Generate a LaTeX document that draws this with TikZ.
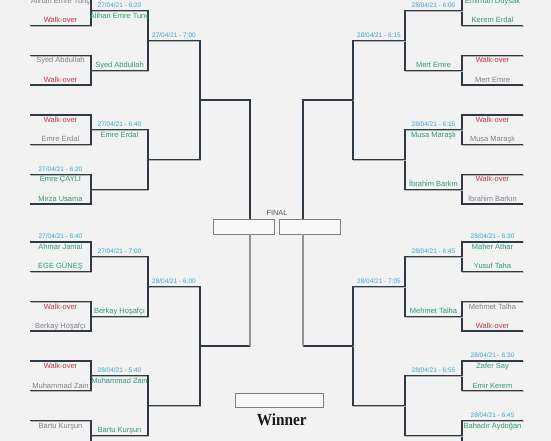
\documentclass[tikz,border=0pt]{standalone}
\usepackage{fontspec}
\setmainfont{Liberation Sans}
\newfontfamily\winnerfont{Liberation Serif}
\usetikzlibrary{calc}
\definecolor{bgcol}{HTML}{F2F2F2}
\definecolor{wincol}{HTML}{2E9B72}
\definecolor{losecol}{HTML}{808080}
\definecolor{wocol}{HTML}{C2384C}
\definecolor{datecol}{HTML}{3BA4C9}
\definecolor{linecol}{HTML}{2F3A45}
\definecolor{fincol}{HTML}{555B66}

\begin{document}
\begin{tikzpicture}[
    x=1bp, y=-1bp,
    bline/.style={draw=linecol, line width=1.1bp,
       preaction={draw=black!30, line width=1.1bp,
          transform canvas={shift={(0.9bp,-0.9bp)}}}},
    gline/.style={draw=linecol!55, line width=1.1bp},
    fbox/.style={draw=black!50, fill=white!50!bgcol, line width=0.9bp,
       inner sep=0pt, minimum height=15bp},
    txt/.style={inner sep=0pt, anchor=base, font=\fontsize{7.5bp}{9bp}\selectfont},
    win/.style={txt, text=wincol},
    lose/.style={txt, text=losecol},
    wo/.style={txt, text=wocol},
    topname/.style={yshift=-7.5bp},
    botname/.style={yshift=2.5bp},
    dat/.style={inner sep=0pt, anchor=base, yshift=3.3bp, text=datecol,
       font=\fontsize{6.5bp}{8bp}\selectfont}
  ]
\fill[bgcol] (0,0) rectangle (551,441);
\useasboundingbox (0,0) rectangle (551,441);
\clip (0,0) rectangle (551,441);

% bracket lines, left side and mirrored right side
\foreach \s/\sg in {L/1,R/-1} {
   \foreach \xc [count=\r from 0] in {30,91,148,200,250}
      \coordinate (\s-col-\r) at ({276.5+\sg*(\xc-276.5)},0);
   \foreach \yy [count=\j] in {-4,25.5,55.5,85,115,144.5,174.5,204,
                                242,271.5,301.5,331,361,390.5,420.5,450}
      \coordinate (\s-0-\j-o) at ({276.5+\sg*(30-276.5)},\yy);
   \foreach \r/\n in {1/8,2/4,3/2} {
      \pgfmathtruncatemacro\p{\r-1}
      \foreach \k in {1,...,\n} {
         \pgfmathtruncatemacro\ka{2*\k-1}
         \pgfmathtruncatemacro\kb{2*\k}
         \draw [bline] (\s-\p-\ka-o) -- (\s-\p-\ka-o -| \s-col-\r)
            -- (\s-\p-\kb-o -| \s-col-\r) -- (\s-\p-\kb-o);
         \coordinate (\s-\r-\k-o) at ($(\s-\p-\ka-o -| \s-col-\r)!0.5!(\s-\p-\kb-o -| \s-col-\r)$);
         \coordinate (\s-\r-\k-t) at ($(\s-\p-\ka-o)!0.5!(\s-\p-\ka-o -| \s-col-\r)$);
         \coordinate (\s-\r-\k-u) at ($(\s-\p-\kb-o)!0.5!(\s-\p-\kb-o -| \s-col-\r)$);
      }
   }
}

% final and winner
\node [fbox, minimum width=61bp] (fin-L) at (243.5,226.5) {};
\node [fbox, minimum width=61bp] (fin-R) at (309.5,226.5) {};
\node [inner sep=0pt, anchor=base, text=fincol,
       font=\fontsize{7.4bp}{9bp}\selectfont] (fin-lbl) at (277,215.3) {FINAL};
\foreach \s in {L,R} {
   \draw [bline] (\s-3-1-o) -- (\s-3-1-o -| \s-col-4) -- (\s-col-4 |- fin-\s.north);
   \draw [bline] (\s-3-2-o) -- (\s-3-2-o -| \s-col-4);
   \draw [gline] (\s-3-2-o -| \s-col-4) -- (\s-col-4 |- fin-\s.south);
}
\node [fbox, minimum width=88bp, minimum height=14bp] (win-box) at (279,400) {};
\node [inner sep=0pt, anchor=base, text=black!90,
       font=\winnerfont\bfseries\fontsize{17bp}{20bp}\selectfont]
   (win-lbl) at (281.7,425.7) {\scalebox{0.9}[1]{Winner}};

% players
\foreach \c/\sty/\txt in {L-1-1/lose/Alihan Emre Tunç, L-1-2/lose/Syed Abdullah,
      L-1-3/wo/Walk-over, L-1-4/win/Emre ÇAYLI, L-1-5/win/Ahmar Jamal,
      L-1-6/wo/Walk-over, L-1-7/wo/Walk-over, L-1-8/lose/Bartu Kurşun,
      L-2-1/win/Alihan Emre Tunç, L-2-2/win/Emre Erdal, L-2-4/win/Muhammad Zain,
      R-1-1/win/Emirhan Duysak, R-1-2/wo/Walk-over, R-1-3/wo/Walk-over,
      R-1-4/wo/Walk-over, R-1-5/win/Maher Athar, R-1-6/lose/Mehmet Talha,
      R-1-7/win/Zafer Say, R-1-8/win/Bahadır Aydoğan, R-2-2/win/Musa Maraşlı}
   \node [\sty, topname] (\c-top) at (\c-t) {\txt};
\foreach \c/\sty/\txt in {L-1-1/wo/Walk-over, L-1-2/wo/Walk-over,
      L-1-3/lose/Emre Erdal, L-1-4/win/Mirza Usama, L-1-5/win/EGE GÜNEŞ,
      L-1-6/lose/Berkay Hoşafçı, L-1-7/lose/Muhammad Zain,
      L-2-1/win/Syed Abdullah, L-2-3/win/Berkay Hoşafçı, L-2-4/win/Bartu Kurşun,
      R-1-1/win/Kerem Erdal, R-1-2/lose/Mert Emre, R-1-3/lose/Musa Maraşlı,
      R-1-4/lose/İbrahim Barkın, R-1-5/win/Yusuf Taha, R-1-6/wo/Walk-over,
      R-1-7/win/Emir Kerem, R-2-1/win/Mert Emre, R-2-2/win/İbrahim Barkın,
      R-2-3/win/Mehmet Talha}
   \node [\sty, botname] (\c-bot) at (\c-u) {\txt};

% match times
\foreach \c/\txt in {L-1-4/{27/04/21 - 6:20}, L-1-5/{27/04/21 - 6:40},
      L-2-1/{27/04/21 - 6:20}, L-2-2/{27/04/21 - 6:40}, L-2-3/{27/04/21 - 7:00},
      L-2-4/{28/04/21 - 5:40}, L-3-1/{27/04/21 - 7:00}, L-3-2/{28/04/21 - 6:00},
      R-1-5/{28/04/21 - 6:30}, R-1-7/{28/04/21 - 6:30}, R-1-8/{28/04/21 - 6:45},
      R-2-1/{28/04/21 - 6:00}, R-2-2/{28/04/21 - 6:15}, R-2-3/{28/04/21 - 6:45},
      R-2-4/{28/04/21 - 6:55}, R-3-1/{28/04/21 - 6:15}, R-3-2/{28/04/21 - 7:05}}
   \node [dat] (\c-date) at (\c-t) {\txt};
\end{tikzpicture}
\end{document}
